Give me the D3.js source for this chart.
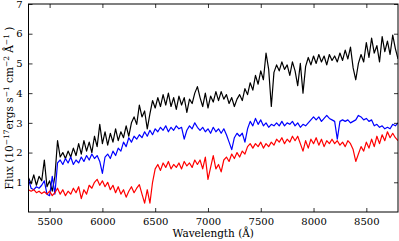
<!DOCTYPE html>
<html><head><meta charset="utf-8">
<script src="https://cdn.jsdelivr.net/npm/d3@7"></script>
<style>body{margin:0;background:#fff}svg{display:block}</style>
</head><body>
<script>
const wavelengths = [5300,5325,5350,5375,5400,5425,5450,5475,5500,5525,5550,5575,5600,5625,5650,5675,5700,5725,5750,5775,5800,5825,5850,5875,5900,5925,5950,5975,6000,6025,6050,6075,6100,6125,6150,6175,6200,6225,6250,6275,6300,6325,6350,6375,6400,6425,6450,6475,6500,6525,6550,6575,6600,6625,6650,6675,6700,6725,6750,6775,6800,6825,6850,6875,6900,6925,6950,6975,7000,7025,7050,7075,7100,7125,7150,7175,7200,7225,7250,7275,7300,7325,7350,7375,7400,7425,7450,7475,7500,7525,7550,7575,7600,7625,7650,7675,7700,7725,7750,7775,7800,7825,7850,7875,7900,7925,7950,7975,8000,8025,8050,8075,8100,8125,8150,8175,8200,8225,8250,8275,8300,8325,8350,8375,8400,8425,8450,8475,8500,8525,8550,8575,8600,8625,8650,8675,8700,8725,8750,8775,8800];

const fluxBlack = [1.15,0.95,1.25,0.9,1.2,1.05,1.75,0.85,1.05,0.7,1.2,2.4,1.85,2.0,1.8,2.05,1.85,2.15,1.9,2.3,1.95,2.4,2.05,2.35,2.0,2.55,2.2,2.95,2.3,2.7,2.25,2.65,2.35,2.8,2.4,2.7,2.5,2.9,2.55,3.0,3.2,2.95,3.6,3.2,3.4,2.8,3.3,3.75,3.5,3.85,3.55,3.95,3.6,4.0,3.55,3.85,3.45,3.9,3.6,3.85,3.35,3.8,3.65,4.0,4.22,3.85,3.55,4.0,3.5,3.9,3.7,4.05,3.75,4.05,3.8,3.95,3.65,3.85,3.55,3.8,3.95,3.75,4.15,3.95,4.35,4.1,4.6,4.3,4.75,4.45,5.35,4.8,3.55,4.7,4.95,4.75,5.05,4.8,4.95,4.6,5.05,4.75,4.25,5.0,4.0,4.9,5.2,4.95,5.25,5.0,5.3,5.05,5.25,4.95,5.3,5.1,5.25,5.05,5.35,5.1,5.45,5.15,5.55,4.85,4.45,5.0,5.3,5.05,5.7,5.2,5.85,5.35,5.6,5.05,5.9,5.4,5.75,5.3,5.95,5.5,5.15];

const fluxBlue = [1.1,0.8,0.75,0.85,0.8,0.9,1.05,0.6,0.55,1.2,0.6,1.65,1.75,1.6,1.8,1.65,1.85,1.6,1.75,1.65,1.85,1.7,1.9,1.75,1.95,1.8,1.9,1.7,1.3,1.85,1.95,1.8,2.05,1.9,2.15,2.05,2.35,2.2,2.5,2.35,2.55,2.45,2.6,2.5,2.7,2.55,2.75,2.6,2.8,2.7,2.85,2.75,2.9,2.7,2.85,2.75,2.9,2.8,2.85,2.45,2.75,2.9,2.8,3.0,2.85,2.75,2.85,2.7,2.8,2.65,2.85,2.7,2.8,2.65,2.8,2.6,2.35,2.1,2.5,2.65,2.55,2.65,2.35,2.8,3.05,2.9,3.15,2.95,3.1,2.9,3.0,2.85,2.95,2.9,3.0,2.9,3.05,2.9,3.0,2.95,3.05,2.9,3.0,2.85,2.95,2.9,3.0,3.1,3.2,3.1,3.2,3.05,3.15,3.25,3.15,3.1,3.05,2.45,3.05,3.1,3.05,3.1,3.0,3.05,3.1,3.25,3.2,3.1,3.15,3.05,3.1,2.9,2.95,2.85,2.9,2.8,2.85,2.8,2.95,2.9,3.0];

const fluxRed = [0.75,0.7,0.75,0.65,0.7,0.62,0.68,0.6,0.7,0.55,0.65,0.8,0.6,0.75,0.55,0.7,0.6,0.8,0.65,0.85,0.45,0.75,0.6,0.9,0.8,1.0,1.1,0.9,1.05,0.85,1.0,0.75,0.9,0.65,0.85,0.6,0.75,0.5,0.7,0.85,0.65,0.8,0.92,0.6,0.3,0.75,0.3,1.0,1.45,1.6,1.4,1.65,1.5,1.7,1.45,1.6,1.5,1.65,1.45,1.7,1.55,1.65,1.5,1.75,1.6,1.75,1.45,1.85,1.1,1.5,1.9,1.45,1.6,1.35,1.75,1.85,1.7,1.95,1.8,2.0,1.85,2.05,1.95,2.2,2.3,2.15,2.3,2.2,2.35,2.15,2.3,2.2,2.35,2.25,2.45,2.35,2.5,2.3,2.45,2.35,2.55,2.4,2.55,2.3,2.05,2.4,2.15,2.45,2.3,2.5,2.25,2.45,2.2,2.4,2.3,2.45,2.3,2.4,2.25,2.35,2.2,2.4,2.3,2.1,1.7,1.95,2.2,2.05,2.35,2.15,2.45,2.2,2.55,2.3,2.6,2.4,2.7,2.5,2.65,2.5,2.4];

const xTicks = [5500,6000,6500,7000,7500,8000,8500];
const yTicks = [1,2,3,4,5,6,7];

const W = 399, H = 241;
const m = {l: 28.5, r: 1, t: 4, b: 29};
const font = "'DejaVu Serif', serif";

const svg = d3.select('body').append('svg').attr('width', W).attr('height', H);
const x = d3.scaleLinear().domain([5300, 8800]).range([m.l, W - m.r]);
const y = d3.scaleLinear().domain([0, 7]).range([H - m.b, m.t]);

svg.append('defs').append('clipPath').attr('id', 'clip')
  .append('rect').attr('x', m.l).attr('y', m.t)
  .attr('width', W - m.r - m.l).attr('height', H - m.b - m.t);

const line = d3.line().x((d, i) => x(wavelengths[i])).y(d => y(d));
const g = svg.append('g').attr('clip-path', 'url(#clip)');
[[fluxBlack, '#000'], [fluxBlue, '#0000ff'], [fluxRed, '#ff0000']].forEach(([s, c]) => {
  g.append('path').datum(s).attr('d', line).attr('fill', 'none')
    .attr('stroke', c).attr('stroke-width', 1.2).attr('stroke-linejoin', 'round');
});

function style(sel) {
  sel.select('.domain').remove();
  sel.selectAll('line').attr('stroke', '#000').attr('stroke-width', 0.8);
  sel.selectAll('text').attr('font-family', font).attr('font-size', 10).attr('fill', '#000');
}
svg.append('g').attr('transform', `translate(0,${H - m.b})`)
  .call(d3.axisBottom(x).tickValues(xTicks).tickSize(-4).tickPadding(6).tickFormat(d3.format('d')))
  .call(style);
svg.append('g').attr('transform', `translate(0,${m.t})`)
  .call(d3.axisTop(x).tickValues(xTicks).tickSize(-4).tickFormat(''))
  .call(style);
svg.append('g').attr('transform', `translate(${m.l},0)`)
  .call(d3.axisLeft(y).tickValues(yTicks).tickSize(-4).tickPadding(6).tickFormat(d3.format('d')))
  .call(style);
svg.append('g').attr('transform', `translate(${W - m.r},0)`)
  .call(d3.axisRight(y).tickValues(yTicks).tickSize(-4).tickFormat(''))
  .call(style);

svg.append('rect').attr('x', m.l).attr('y', m.t)
  .attr('width', W - m.r - m.l).attr('height', H - m.b - m.t)
  .attr('fill', 'none').attr('stroke', '#000').attr('stroke-width', 1);

svg.append('text').attr('x', (m.l + W - m.r) / 2).attr('y', 237)
  .attr('text-anchor', 'middle').attr('font-family', font).attr('font-size', 10.5)
  .text('Wavelength (Å)');

const yl = svg.append('text').attr('transform', `translate(13,${(m.t + H - m.b) / 2}) rotate(-90)`)
  .attr('text-anchor', 'middle').attr('font-family', font).attr('font-size', 10.5);
const parts = [['Flux (10', 0], ['−17', 1], ['ergs s', 0], ['−1', 1], [' cm', 0], ['−2', 1], [' Å', 0], ['−1', 1], [' )', 0]];
parts.forEach(([t, sup], i) => {
  const prev = i > 0 ? parts[i - 1][1] : 0;
  const dy = sup && !prev ? -4 : (!sup && prev ? 4 : 0);
  yl.append('tspan').attr('dy', dy).attr('font-size', sup ? 7.5 : 10.5).text(t);
});
</script>
</body></html>
